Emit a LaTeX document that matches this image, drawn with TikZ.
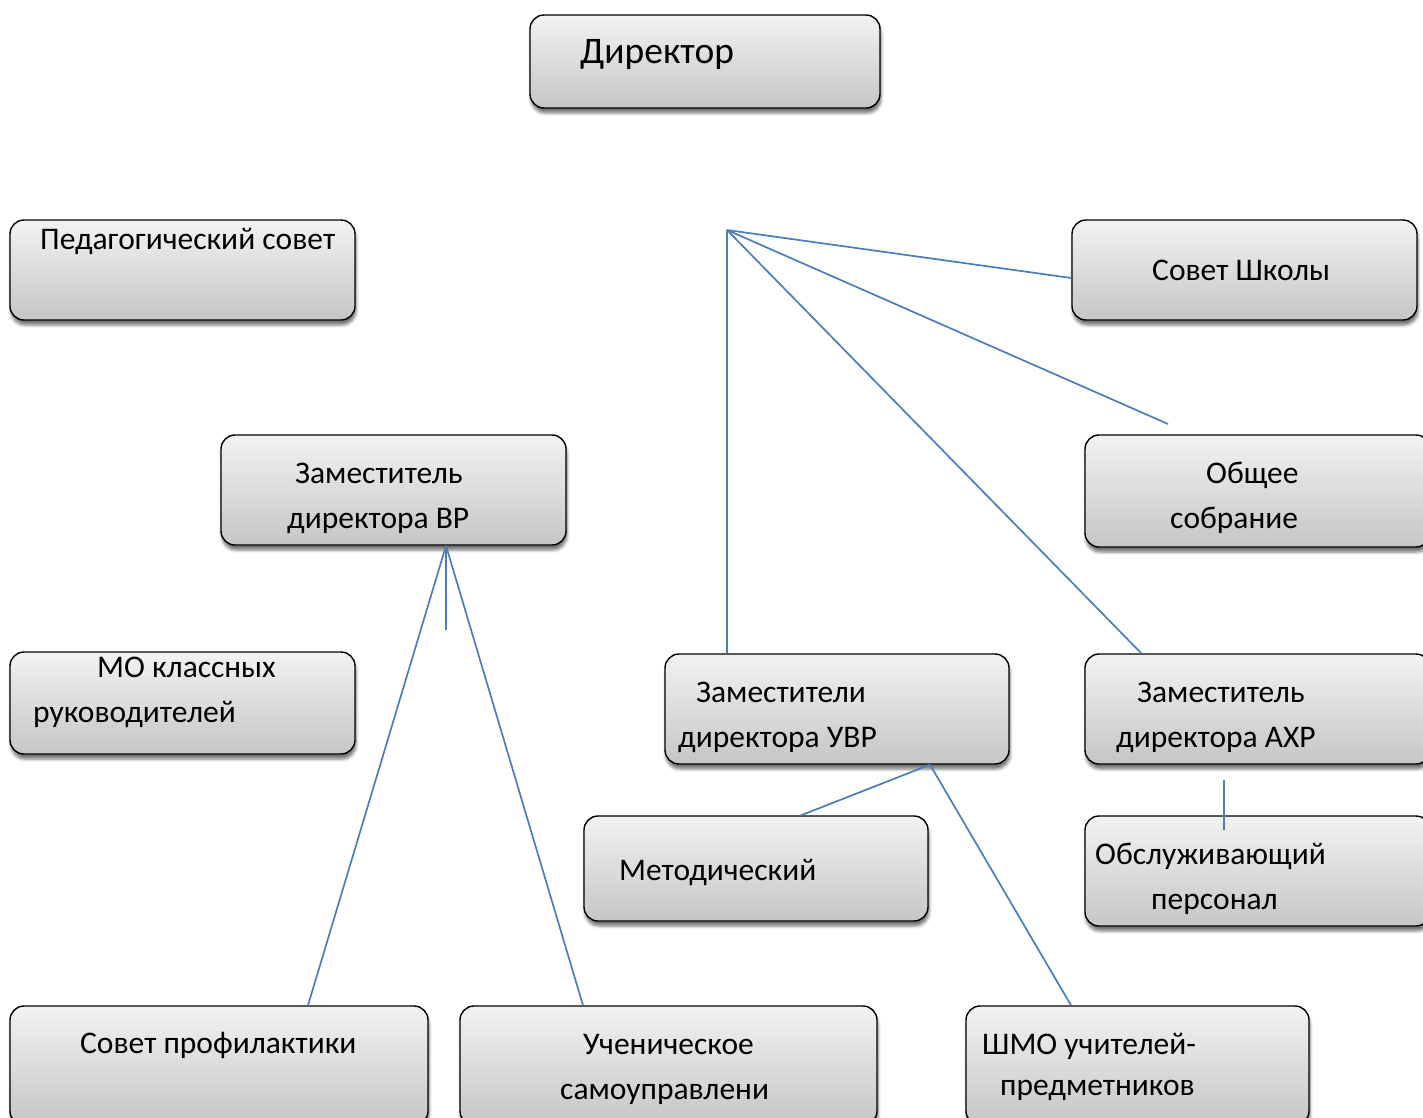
\documentclass[tikz,border=0pt]{standalone}
\usepackage{fontspec}
\setmainfont{Carlito}
\usetikzlibrary{shadows.blur}
\definecolor{lineblue}{HTML}{4A7EBB}
\tikzset{
  x=1pt, y=-1pt,
  box/.style={draw=black, line width=1.4pt, rounded corners=14pt, inner sep=0pt,
    top color=gray!10, bottom color=gray!45,
    blur shadow={shadow xshift=1pt, shadow yshift=-5pt, shadow blur radius=3pt, shadow opacity=55}},
  txt/.style={anchor=base west, inner sep=0pt, font=\fontsize{31.5}{34}\selectfont},
  conn/.style={draw=lineblue, line width=1.7pt}
}
\begin{document}
\begin{tikzpicture}
\useasboundingbox (0,0) rectangle (1423,1117);
\clip (0,0) rectangle (1423,1117);
% boxes
\node[box, minimum width=350pt, minimum height=93pt] (dir) at (705,61.5) {};
\node[box, minimum width=345pt, minimum height=100pt] (ped) at (182.5,270) {};
\node[box, minimum width=345pt, minimum height=100pt] (sovet) at (1244.5,270) {};
\node[box, minimum width=345pt, minimum height=110pt] (vr) at (393.5,490) {};
\node[box, minimum width=345pt, minimum height=112pt] (obsh) at (1257.5,491) {};
\node[box, minimum width=345pt, minimum height=102pt] (mo) at (182.5,703) {};
\node[box, minimum width=344pt, minimum height=110pt] (uvr) at (837,709) {};
\node[box, minimum width=345pt, minimum height=110pt] (ahr) at (1257.5,709) {};
\node[box, minimum width=344pt, minimum height=105pt] (met) at (756,868.5) {};
\node[box, minimum width=345pt, minimum height=110pt] (obsl) at (1257.5,871) {};
\node[box, minimum width=418pt, minimum height=119pt] (sprof) at (219,1065.5) {};
\node[box, minimum width=417pt, minimum height=119pt] (uch) at (668.5,1065.5) {};
\node[box, minimum width=343pt, minimum height=119pt] (shmo) at (1137.5,1065.5) {};
% texts
\node[txt, font=\fontsize{37.5}{40}\selectfont] (tdir) at (580,63) {Директор};
\node[txt] (tped) at (40,249) {Педагогический совет};
\node[txt] (tsov) at (1152,280) {Совет Школы};
\node[txt] (tvr1) at (295,483) {Заместитель};
\node[txt] (tvr2) at (287,528) {директора ВР};
\node[txt] (tob1) at (1206,483) {Общее};
\node[txt] (tob2) at (1170,528) {собрание};
\node[txt] (tmo1) at (97,677) {МО классных};
\node[txt] (tmo2) at (33,722) {руководителей};
\node[txt] (tuv1) at (696,702) {Заместители};
\node[txt] (tuv2) at (678,747) {директора УВР};
\node[txt] (tah1) at (1137,702) {Заместитель};
\node[txt] (tah2) at (1116,747) {директора АХР};
\node[txt] (tmet) at (619,880) {Методический};
\node[txt] (tos1) at (1095,864) {Обслуживающий};
\node[txt] (tos2) at (1151,909) {персонал};
\node[txt] (tsp) at (80,1053) {Совет профилактики};
\node[txt] (tuc1) at (583,1054) {Ученическое};
\node[txt] (tuc2) at (560,1099) {самоуправлени};
\node[txt] (tsh1) at (982,1054) {ШМО учителей-};
\node[txt] (tsh2) at (1000,1095) {предметников};
% connectors from the director hub
\coordinate (hub) at (727,230);
\coordinate (obshEnd) at (1168,424);
\draw[conn] (hub) -- (hub |- uvr.north);
\draw[conn] (hub) -- ([yshift=-8pt]sovet.west);
\draw[conn] (hub) -- (obshEnd);
\draw[conn] (hub) -- ([xshift=57pt]ahr.north west);
% VR branch
\coordinate (vrB) at ([xshift=52.5pt]vr.south);
\coordinate (vrEnd) at (446,630);
\draw[conn] (vrB) -- ([xshift=89pt]sprof.north);
\draw[conn] (vrB) -- ([xshift=-85.5pt]uch.north);
\draw[conn] (vrB) -- (vrEnd);
% UVR branch
\coordinate (uvrB) at ([xshift=93pt]uvr.south);
\draw[conn] (uvrB) -- ([xshift=45pt]met.north);
\draw[conn] (uvrB) -- ([xshift=-66.5pt]shmo.north);
% AHR branch
\coordinate (ahrA) at (1224,780);
\coordinate (ahrB) at (1224,830);
\draw[conn] (ahrA) -- (ahrB);
\end{tikzpicture}
\end{document}
